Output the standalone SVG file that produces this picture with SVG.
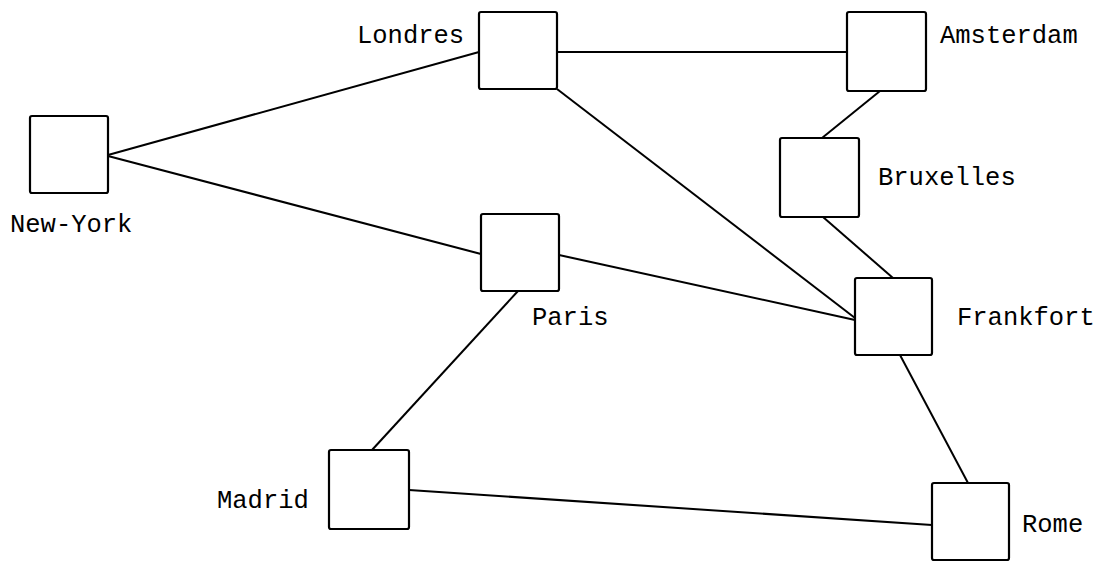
<svg xmlns="http://www.w3.org/2000/svg" width="1107" height="562" viewBox="0 0 1107 562">
<style>
.box{fill:#fff;stroke:#000;stroke-width:2.2}
.lbl{font-family:"Liberation Mono","Courier New",monospace;font-size:25.5px;fill:#000}
.edge{stroke:#000;stroke-width:2;fill:none}
</style>
<rect width="1107" height="562" fill="#fff"/>
<g id="connectors">
<line class="edge" x1="108" y1="155" x2="479" y2="52"/>
<line class="edge" x1="108" y1="156" x2="481" y2="254"/>
<line class="edge" x1="557" y1="52" x2="847" y2="52"/>
<line class="edge" x1="557" y1="89" x2="855" y2="318"/>
<line class="edge" x1="559" y1="255" x2="855" y2="320"/>
<line class="edge" x1="880" y1="91" x2="822" y2="138"/>
<line class="edge" x1="823" y1="217" x2="893" y2="278"/>
<line class="edge" x1="518" y1="291" x2="372" y2="450"/>
<line class="edge" x1="409" y1="490" x2="932" y2="525"/>
<line class="edge" x1="900" y1="355" x2="968" y2="483"/>
</g>
<g id="new-york"><rect class="box" x="30" y="116" width="78" height="77" rx="2"/><text class="lbl" x="10" y="232">New-York</text></g>
<g id="londres"><rect class="box" x="479" y="12" width="78" height="77" rx="2"/><text class="lbl" x="357" y="43">Londres</text></g>
<g id="amsterdam"><rect class="box" x="847" y="12" width="79" height="79" rx="2"/><text class="lbl" x="940" y="43">Amsterdam</text></g>
<g id="bruxelles"><rect class="box" x="780" y="138" width="79" height="79" rx="2"/><text class="lbl" x="878" y="185">Bruxelles</text></g>
<g id="paris"><rect class="box" x="481" y="214" width="78" height="77" rx="2"/><text class="lbl" x="532" y="325">Paris</text></g>
<g id="frankfort"><rect class="box" x="855" y="278" width="77" height="77" rx="2"/><text class="lbl" x="957" y="325">Frankfort</text></g>
<g id="madrid"><rect class="box" x="329" y="450" width="80" height="79" rx="2"/><text class="lbl" x="217" y="508">Madrid</text></g>
<g id="rome"><rect class="box" x="932" y="483" width="77" height="77" rx="2"/><text class="lbl" x="1022" y="532">Rome</text></g>
</svg>
